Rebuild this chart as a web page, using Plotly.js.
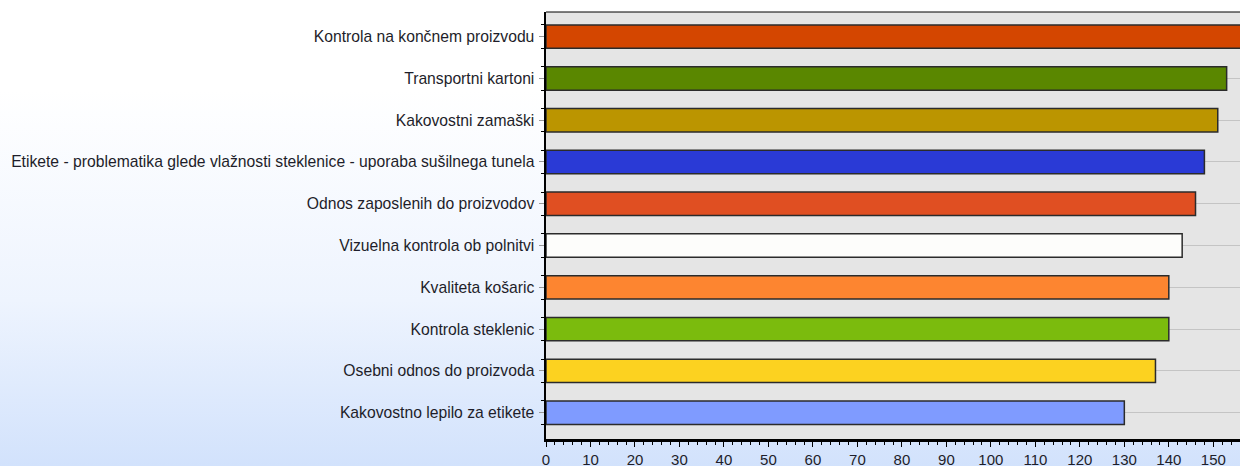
<!DOCTYPE html>
<html>
<head>
    <meta charset="utf-8">
    <title>Kakovost</title>
    <script src="https://cdn.plot.ly/plotly-3.0.1.min.js"></script>
    <style>
        html, body { margin: 0; padding: 0; }
        body {
            width: 1240px;
            height: 466px;
            overflow: hidden;
            background: linear-gradient(to bottom, #ffffff 0px, #ffffff 90px, #eef4fe 300px, #d2e2fc 466px);
        }
    </style>
</head>
<body>
    <div id="chart" style="width:1240px;height:466px;"></div>

    <script>
        // kategorije od zgoraj navzdol
        const categories = [
            "Kontrola na končnem proizvodu",
            "Transportni kartoni",
            "Kakovostni zamaški",
            "Etikete - problematika glede vlažnosti steklenice - uporaba sušilnega tunela",
            "Odnos zaposlenih do proizvodov",
            "Vizuelna kontrola ob polnitvi",
            "Kvaliteta košaric",
            "Kontrola steklenic",
            "Osebni odnos do proizvoda",
            "Kakovostno lepilo za etikete"
        ];
        const values = [160, 153, 151, 148, 146, 143, 140, 140, 137, 130];
        const barColors = [
            "#d44600", "#5a8700", "#bb9500", "#2a3ad6", "#e04f22",
            "#fdfdfb", "#fd8530", "#7bbb0d", "#fcd220", "#7f9bff"
        ];
        const xTicks = [0, 10, 20, 30, 40, 50, 60, 70, 80, 90, 100, 110, 120, 130, 140, 150];

        const barWidth = 0.56;
        const positions = categories.map((_, i) => i);
        // male črtice na levi osi ob robovih stolpcev
        const edgeTicks = [];
        positions.forEach(p => { edgeTicks.push(p - barWidth / 2, p + barWidth / 2); });

        const trace = {
            type: "bar",
            orientation: "h",
            x: values,
            y: positions,
            width: barWidth,
            marker: { color: barColors, line: { color: "#2b2b2b", width: 1.5 } },
            hoverinfo: "x+text",
            text: categories,
            textposition: "none"
        };

        const layout = {
            width: 1240,
            height: 466,
            margin: { l: 546, r: 0, t: 12, b: 27 },
            paper_bgcolor: "rgba(0,0,0,0)",
            plot_bgcolor: "#e5e5e5",
            showlegend: false,
            font: { family: "Liberation Sans, Arial, sans-serif", size: 15.7, color: "#1e1e2a" },
            xaxis: {
                range: [0, 156],
                tickmode: "array",
                tickvals: xTicks,
                ticks: "outside",
                ticklen: 5,
                tickwidth: 1,
                tickcolor: "#000",
                tickfont: { size: 15 },
                ticklabelstandoff: 0,
                showgrid: false,
                zeroline: false,
                showline: true,
                linecolor: "#000",
                linewidth: 2.5,
                minor: { tick0: 0, dtick: 2, ticks: "outside", ticklen: 3, tickcolor: "#000", showgrid: false }
            },
            yaxis: {
                range: [9.63, -0.59],
                tickmode: "array",
                tickvals: positions,
                ticktext: categories,
                ticks: "outside",
                ticklen: 5,
                tickcolor: "#999",
                ticklabelstandoff: 1,
                showgrid: true,
                gridcolor: "#c4c4c4",
                gridwidth: 1,
                zeroline: false,
                showline: true,
                linecolor: "#000",
                linewidth: 2.5,
                minor: { tickmode: "array", tickvals: edgeTicks, ticks: "outside", ticklen: 3, tickcolor: "#000", showgrid: false }
            },
            shapes: [
                { type: "line", xref: "paper", yref: "paper", x0: 0, x1: 1, y0: 1, y1: 1, line: { color: "#000", width: 1 } }
            ]
        };

        Plotly.newPlot("chart", [trace], layout, { displayModeBar: false, staticPlot: true });
    </script>
</body>
</html>
